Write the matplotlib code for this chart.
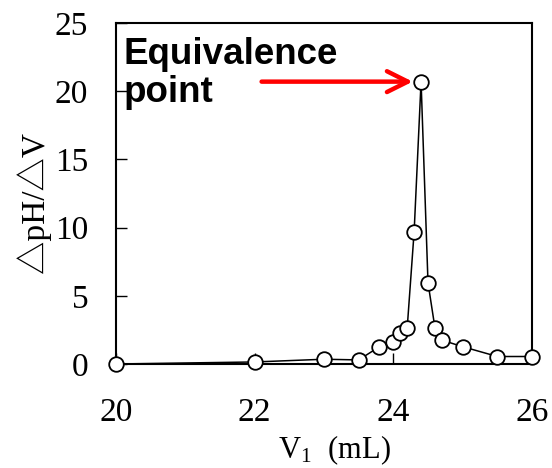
import matplotlib
matplotlib.use("Agg")
import matplotlib.pyplot as plt

volume_ml = [20.0, 22.0, 23.0, 23.5, 23.8, 24.0, 24.1, 24.2, 24.3, 24.4, 24.5, 24.6, 24.7, 25.0, 25.5, 26.0]
dph_dv = [0.0, 0.15, 0.35, 0.3, 1.27, 1.6, 2.25, 2.65, 9.7, 20.7, 5.95, 2.65, 1.75, 1.27, 0.55, 0.55]

x_ticks = [20, 22, 24, 26]
y_ticks = [0, 5, 10, 15, 20, 25]

plt.rcParams['mathtext.fontset'] = 'stix'
serif = ['Liberation Serif', 'DejaVu Serif', 'DejaVu Sans']
label_fonts = ['Liberation Serif', 'Noto Sans CJK JP', 'DejaVu Sans']

fig = plt.figure(figsize=(5.52, 4.68), dpi=100)
ax = fig.add_axes([0.2101, 0.2222, 0.7537, 0.7287])

ax.plot(volume_ml, dph_dv, color='black', lw=1.1, marker='o', ms=10.5,
        mfc='white', mec='black', mew=1.3, clip_on=False, zorder=3)

ax.set_xlim(20, 26)
ax.set_ylim(0, 25)
ax.set_xticks(x_ticks)
ax.set_yticks(y_ticks)
for s in ax.spines.values():
    s.set_linewidth(1.5)
ax.tick_params(direction='in', length=8, width=1.0, labelsize=24)
ax.tick_params(axis='y', pad=20)
ax.tick_params(axis='x', pad=24)
for lab in ax.get_xticklabels() + ax.get_yticklabels():
    lab.set_family(serif)

ax.set_xlabel(r"V$_\mathregular{1}$  (mL)", fontsize=22, family=serif)
ax.xaxis.set_label_coords(0.526, -0.203)
ax.set_ylabel("△pH/△V", fontsize=24, family=label_fonts)
ax.yaxis.set_label_coords(-0.155, 0.475)

peak_i = dph_dv.index(max(dph_dv))
ax.annotate('', xy=(volume_ml[peak_i], dph_dv[peak_i]), xytext=(22.1, dph_dv[peak_i]),
            arrowprops=dict(arrowstyle='->,head_length=1.5,head_width=0.75', color='#ff0000',
                            lw=3.2, shrinkA=0, shrinkB=6))
ax.text(0.017, 0.96, "Equivalence\npoint", transform=ax.transAxes, fontsize=26.5,
        fontweight='bold', family=['Liberation Sans', 'DejaVu Sans'], va='top', ha='left',
        linespacing=1.12)

fig.savefig("out.png", dpi=100)
